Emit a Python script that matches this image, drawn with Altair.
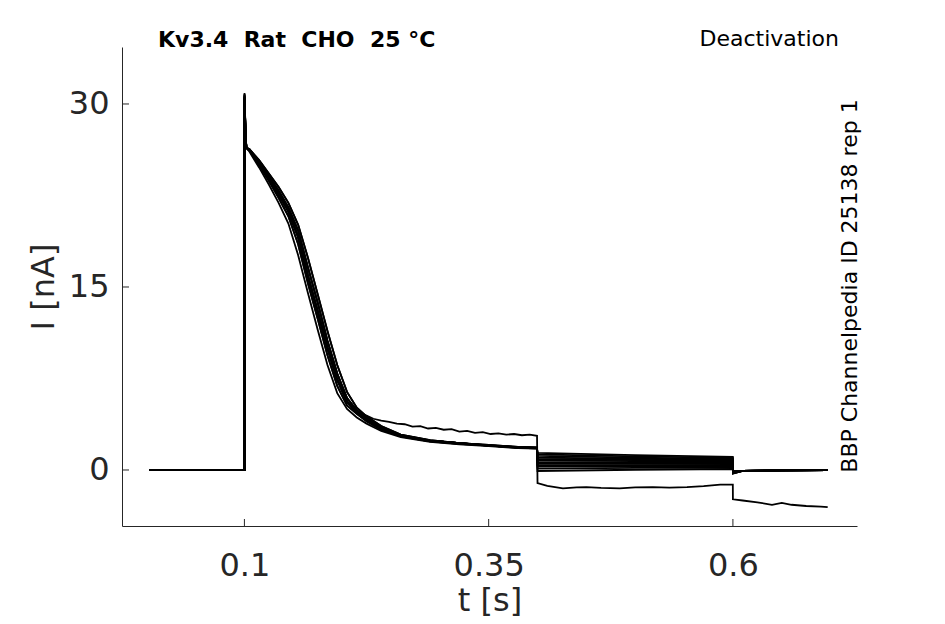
import altair as alt
import pandas as pd

# ---------------- data ----------------
t_pre = [0.003, 0.1]
t_spike = [0.1001, 0.1012]
t_decay = [0.102, 0.105, 0.115, 0.125, 0.135, 0.145, 0.155, 0.165, 0.175, 0.185,
           0.195, 0.205, 0.215, 0.225, 0.24, 0.26, 0.29, 0.32, 0.35, 0.38, 0.3995]

decay_fast = [26.4, 26.1, 24.8, 23.4, 21.9, 20.2, 17.6, 14.5, 11.5, 8.6, 6.3, 5.0, 4.3, 3.8, 3.2, 2.7, 2.3, 2.1, 1.95, 1.8, 1.75]
decay_mid1 = [26.4, 26.2, 25.0, 23.7, 22.3, 20.8, 18.5, 15.3, 12.4, 9.4, 6.9, 5.3, 4.6, 4.0, 3.3, 2.75, 2.35, 2.15, 2.0, 1.82, 1.78]
decay_mid = [26.4, 26.2, 25.1, 23.9, 22.6, 21.2, 19.1, 15.9, 13.0, 10.0, 7.4, 5.6, 4.75, 4.1, 3.4, 2.8, 2.4, 2.2, 2.0, 1.85, 1.8]
decay_mid2 = [26.4, 26.3, 25.2, 24.1, 22.9, 21.5, 19.6, 16.6, 13.7, 10.6, 7.9, 5.9, 4.9, 4.25, 3.5, 2.85, 2.4, 2.2, 2.02, 1.87, 1.82]
decay_slow = [26.4, 26.3, 25.4, 24.3, 23.2, 21.9, 20.1, 17.4, 14.4, 11.4, 8.6, 6.4, 5.1, 4.4, 3.6, 2.9, 2.45, 2.2, 2.05, 1.9, 1.85]
decay_shapes = {"fast": decay_fast, "mid1": decay_mid1, "mid": decay_mid,
                "mid2": decay_mid2, "slow": decay_slow}

trace_shape = ["fast", "mid1", "mid1", "mid", "mid", "mid", "mid", "mid2", "mid2", "mid2", "slow", "slow"]
peak = [30.8, 30.5, 30.9, 30.3, 30.6, 30.7, 30.2, 30.8, 30.4, 30.6, 30.5, 30.7]
spike_fall = [27.5, 27.4, 27.6, 27.3, 27.5, 27.5, 27.2, 27.6, 27.4, 27.5, 27.4, 27.5]

t_tail = [0.4, 0.5, 0.5999]
tail_start = [1.4, 1.28, 1.15, 1.02, 0.9, 0.78, 0.65, 0.52, 0.4, 0.27, 0.12, -0.08]
tail_mid = [1.22, 1.12, 1.02, 0.92, 0.82, 0.72, 0.61, 0.5, 0.4, 0.29, 0.17, 0.02]
tail_end = [1.08, 1.0, 0.92, 0.84, 0.76, 0.68, 0.6, 0.5, 0.41, 0.32, 0.2, 0.08]

t_post = [0.6, 0.61, 0.65, 0.697]
post_start = [-0.3, -0.25, -0.3, -0.2, -0.25, -0.2, -0.15, -0.2, -0.1, -0.15, -0.1, -0.05]
post_rest = [-0.08, -0.03, 0.0]

# the drifting sweep
out_peak = [30.6, 27.5]
out_t_plateau = [0.225, 0.232, 0.24, 0.248, 0.256, 0.264, 0.272, 0.28, 0.288, 0.296, 0.304, 0.312,
                 0.32, 0.328, 0.336, 0.344, 0.352, 0.36, 0.368, 0.376, 0.384, 0.392, 0.3995]
out_i_plateau = [4.45, 4.2, 4.05, 3.95, 3.8, 3.75, 3.55, 3.6, 3.4, 3.45, 3.3, 3.35,
                 3.15, 3.2, 3.05, 3.1, 2.95, 3.0, 2.9, 2.95, 2.85, 2.9, 2.8]
out_t_tail = [0.4, 0.41, 0.426, 0.44, 0.45, 0.465, 0.484, 0.5, 0.518, 0.535, 0.553, 0.57, 0.587, 0.5999]
out_i_tail = [-1.07, -1.3, -1.5, -1.42, -1.4, -1.47, -1.5, -1.43, -1.4, -1.45, -1.4, -1.32, -1.2, -1.2]
out_t_post = [0.6, 0.61, 0.625, 0.64, 0.65, 0.66, 0.675, 0.69, 0.697]
out_i_post = [-2.4, -2.5, -2.65, -2.85, -2.7, -2.85, -2.95, -3.0, -3.05]

x_ticks = [0.1, 0.35, 0.6]
y_ticks = [0, 15, 30]

title_left = "Kv3.4\u00a0\u00a0Rat\u00a0\u00a0CHO\u00a0\u00a025\u00a0°C"
title_right = "Deactivation"
side_label = "BBP Channelpedia ID 25138 rep 1"

# ---------------- build table ----------------
rows = []
for k in range(len(trace_shape)):
    pts = [(t, 0.0) for t in t_pre]
    pts += [(t_spike[0], peak[k]), (t_spike[1], spike_fall[k])]
    pts += list(zip(t_decay, decay_shapes[trace_shape[k]]))
    pts += list(zip(t_tail, [tail_start[k], tail_mid[k], tail_end[k]]))
    pts += list(zip(t_post, [post_start[k]] + post_rest))
    for i, (t, v) in enumerate(pts):
        rows.append({"trace": f"s{k}", "idx": i, "t": t, "I": v})

n_common = t_decay.index(0.215) + 1
pts = [(t, 0.0) for t in t_pre]
pts += list(zip(t_spike, out_peak))
pts += list(zip(t_decay[:n_common], decay_mid[:n_common]))
pts += list(zip(out_t_plateau, out_i_plateau))
pts += list(zip(out_t_tail, out_i_tail))
pts += list(zip(out_t_post, out_i_post))
for i, (t, v) in enumerate(pts):
    rows.append({"trace": "out", "idx": i, "t": t, "I": v})

df = pd.DataFrame(rows)

FONT = "DejaVu Sans"
AX = "#262626"
W, H = 735, 479
FS = 32
TS = 22

xscale = alt.Scale(domain=[-0.0253, 0.727], nice=False, zero=False)
yscale = alt.Scale(domain=[-4.59, 34.67], nice=False, zero=False)

lines = alt.Chart(df).mark_line(color="black", strokeWidth=1.8, strokeJoin="miter").encode(
    x=alt.X("t:Q", scale=xscale, title="t [s]",
            axis=alt.Axis(values=x_ticks, format="~g", tickSize=0, grid=False,
                          domainColor=AX, labelColor=AX, titleColor=AX,
                          labelFont=FONT, titleFont=FONT, labelFontSize=FS, titleFontSize=FS,
                          titleFontWeight="normal", labelPadding=24, titlePadding=4)),
    y=alt.Y("I:Q", scale=yscale, title="I [nA]",
            axis=alt.Axis(values=y_ticks, tickSize=0, grid=False,
                          domainColor=AX, labelColor=AX, titleColor=AX,
                          labelFont=FONT, titleFont=FONT, labelFontSize=FS, titleFontSize=FS,
                          titleFontWeight="normal", labelPadding=13, titlePadding=8)),
    detail="trace:N",
    order="idx:Q",
)

xt = alt.Chart(pd.DataFrame({"t": x_ticks})).mark_rule(color=AX, strokeWidth=1).encode(
    x=alt.X("t:Q", scale=xscale), y=alt.value(H), y2=alt.value(H - 7))
yt = alt.Chart(pd.DataFrame({"I": y_ticks})).mark_rule(color=AX, strokeWidth=1).encode(
    y=alt.Y("I:Q", scale=yscale), x=alt.value(0), x2=alt.value(7))

title_l = alt.Chart(pd.DataFrame({"txt": [title_left]})).mark_text(
    font=FONT, fontSize=TS, fontWeight="bold", align="left", baseline="middle", color="black"
).encode(text="txt:N", x=alt.value(36), y=alt.value(-7))
title_r = alt.Chart(pd.DataFrame({"txt": [title_right]})).mark_text(
    font=FONT, fontSize=TS, align="right", baseline="middle", color="black"
).encode(text="txt:N", x=alt.value(717), y=alt.value(-8))
side = alt.Chart(pd.DataFrame({"txt": [side_label]})).mark_text(
    font=FONT, fontSize=TS, align="center", baseline="middle", angle=270, color="black"
).encode(text="txt:N", x=alt.value(728), y=alt.value(239))

chart = alt.layer(lines, xt, yt, title_l, title_r, side).properties(
    width=W, height=H,
    padding={"left": 114, "top": 39, "right": 80, "bottom": 97},
    autosize=alt.AutoSizeParams(type="none"),
).configure_view(stroke=None).configure_axis(domainWidth=1)

chart.save("out.html", embed_options={"renderer": "svg", "actions": False})
